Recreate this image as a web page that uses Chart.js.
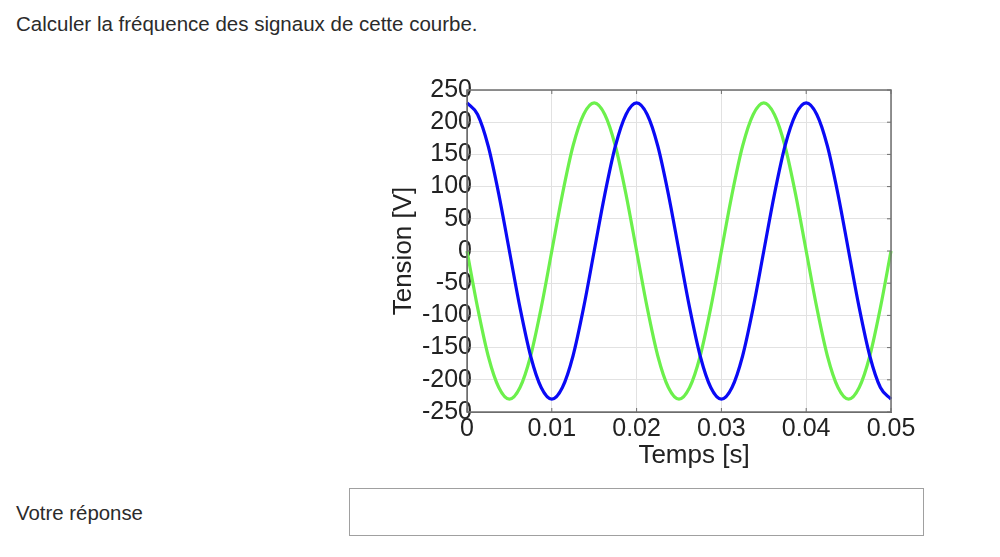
<!DOCTYPE html>
<html>
<head>
<meta charset="utf-8">
<script src="https://cdn.jsdelivr.net/npm/chart.js@4"></script>
<style>
  body { margin: 0; background: #fff; font-family: "Liberation Sans", Arial, sans-serif; color: #2b2b2b; }
  #question { position: absolute; left: 16px; top: 12px; font-size: 20.5px; }
  #chartBox { position: absolute; left: 380px; top: 70px; width: 540px; height: 400px; }
  #answerLabel { position: absolute; left: 16px; top: 502px; font-size: 20.4px; }
  #answer { position: absolute; left: 349px; top: 488px; width: 573px; height: 46px; border: 1px solid #a0a0a0; box-sizing: content-box; }
</style>
</head>
<body>
<div id="question">Calculer la fréquence des signaux de cette courbe.</div>
<div id="chartBox"><canvas id="myChart"></canvas></div>
<div id="answerLabel">Votre réponse</div>
<div id="answer"></div>
<script>
// temps en secondes
const times = [
    0, 0.00125, 0.0025, 0.00375, 0.005, 0.00625, 0.0075, 0.00875,
    0.01, 0.01125, 0.0125, 0.01375, 0.015, 0.01625, 0.0175, 0.01875,
    0.02, 0.02125, 0.0225, 0.02375, 0.025, 0.02625, 0.0275, 0.02875,
    0.03, 0.03125, 0.0325, 0.03375, 0.035, 0.03625, 0.0375, 0.03875,
    0.04, 0.04125, 0.0425, 0.04375, 0.045, 0.04625, 0.0475, 0.04875, 0.05
];
// tension bleue (V)
const blueVolts = [
    230, 212, 163, 88, 0, -88, -163, -212,
    -230, -212, -163, -88, 0, 88, 163, 212,
    230, 212, 163, 88, 0, -88, -163, -212,
    -230, -212, -163, -88, 0, 88, 163, 212,
    230, 212, 163, 88, 0, -88, -163, -212, -230
];
// tension verte (V)
const greenVolts = [
    0, -88, -163, -212, -230, -212, -163, -88,
    0, 88, 163, 212, 230, 212, 163, 88,
    0, -88, -163, -212, -230, -212, -163, -88,
    0, 88, 163, 212, 230, 212, 163, 88,
    0, -88, -163, -212, -230, -212, -163, -88, 0
];
const xTicks = [0, 0.01, 0.02, 0.03, 0.04, 0.05];
const yTicks = [-250, -200, -150, -100, -50, 0, 50, 100, 150, 200, 250];
const xTitle = 'Temps [s]';

const toPoints = (ys) => times.map((t, i) => ({ x: t, y: ys[i] }));

const tickFont = { family: "Liberation Sans", size: 25 };
const titleFont = { family: "Liberation Sans", size: 26 };

// cadre gris, petites graduations vers l'intérieur, titre de l'axe x
const framePlugin = {
    id: 'frame',
    afterDatasetsDraw: (chart) => {
        const { ctx, chartArea: a, scales } = chart;
        ctx.save();
        ctx.strokeStyle = '#6e6e6e';
        ctx.lineWidth = 1.5;
        ctx.strokeRect(a.left, a.top, a.right - a.left, a.bottom - a.top);
        ctx.lineWidth = 1;
        xTicks.forEach(v => {
            const px = scales.x.getPixelForValue(v);
            ctx.beginPath();
            ctx.moveTo(px, a.top); ctx.lineTo(px, a.top + 4);
            ctx.moveTo(px, a.bottom); ctx.lineTo(px, a.bottom - 4);
            ctx.stroke();
        });
        yTicks.forEach(v => {
            const py = scales.y.getPixelForValue(v);
            ctx.beginPath();
            ctx.moveTo(a.right, py); ctx.lineTo(a.right - 4, py);
            ctx.moveTo(a.left, py); ctx.lineTo(a.left + 4, py);
            ctx.stroke();
        });
        // titre de l'axe x, un peu décalé à droite comme dans l'original
        ctx.fillStyle = '#222';
        ctx.font = `${titleFont.size}px ${titleFont.family}`;
        ctx.textAlign = 'center';
        ctx.textBaseline = 'middle';
        ctx.fillText(xTitle, (a.left + a.right) / 2 + 15, a.bottom + 44);
        ctx.restore();
    }
};

const ctx = document.getElementById('myChart');

new Chart(ctx, {
    type: 'line',
    data: {
        datasets: [
            {
                label: 'bleu',
                data: toPoints(blueVolts),
                borderColor: '#0a0af5',
                borderWidth: 3.2,
                pointRadius: 0,
                cubicInterpolationMode: 'monotone'
            },
            {
                label: 'vert',
                data: toPoints(greenVolts),
                borderColor: '#6cf04c',
                borderWidth: 3.2,
                pointRadius: 0,
                cubicInterpolationMode: 'monotone'
            }
        ]
    },
    options: {
        responsive: true,
        maintainAspectRatio: false,
        animation: false,
        clip: false,
        layout: { padding: { top: 20, right: 29, left: 0, bottom: 0 } },
        plugins: { legend: { display: false }, tooltip: { enabled: false } },
        scales: {
            x: {
                type: 'linear',
                min: 0,
                max: 0.05,
                afterBuildTicks: (s) => { s.ticks = xTicks.map(v => ({ value: v })); },
                afterFit: (s) => { s.height = 58; },
                grid: { color: '#e2e2e2', drawTicks: false },
                border: { color: '#6e6e6e' },
                ticks: {
                    font: tickFont,
                    color: '#222',
                    padding: 2,
                    maxRotation: 0,
                    callback: (v) => v === 0 ? '0' : v.toFixed(2)
                }
            },
            y: {
                min: -250,
                max: 250,
                afterBuildTicks: (s) => { s.ticks = yTicks.map(v => ({ value: v })); },
                afterFit: (s) => { s.width = 87; },
                // laisser les étiquettes déborder sur l'axe
                afterUpdate: (s) => { s._computeLabelArea = () => undefined; },
                grid: { color: '#e2e2e2', drawTicks: false },
                border: { color: '#6e6e6e' },
                ticks: {
                    font: tickFont,
                    color: '#222',
                    padding: -5,
                    autoSkip: false
                },
                title: {
                    display: true,
                    text: 'Tension [V]',
                    font: titleFont,
                    color: '#222',
                    padding: { top: 8, bottom: 0 }
                }
            }
        }
    },
    plugins: [framePlugin]
});
</script>
</body>
</html>
